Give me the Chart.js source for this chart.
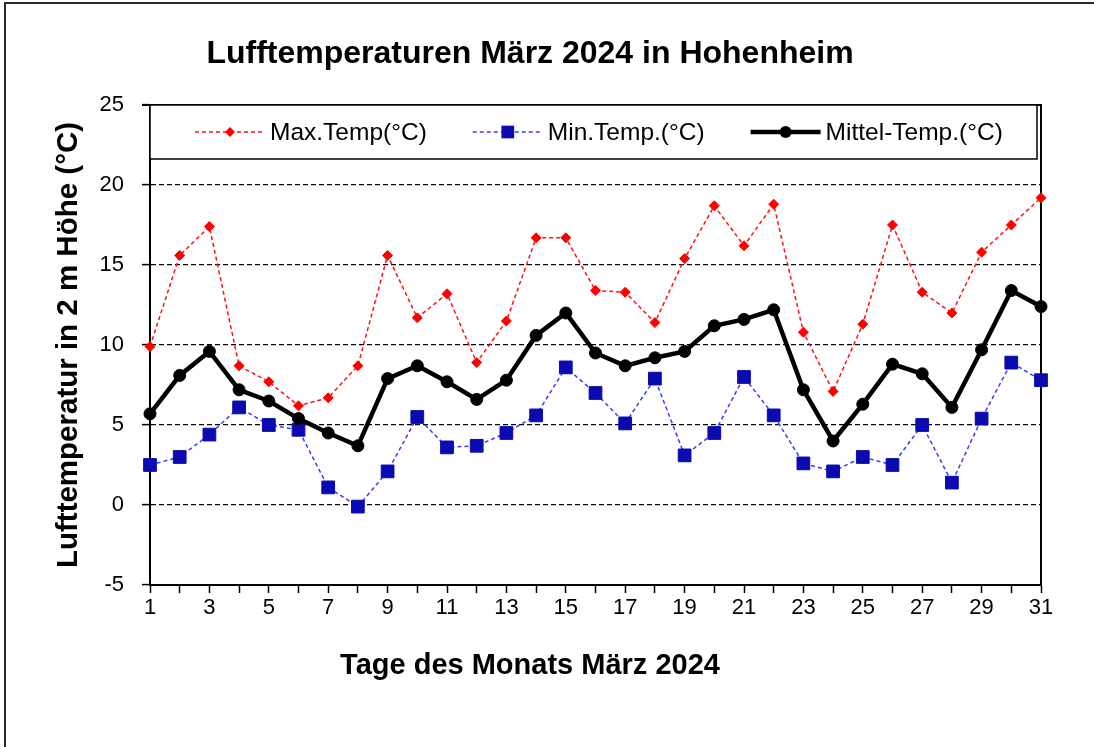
<!DOCTYPE html>
<html>
<head>
<meta charset="utf-8">
<title>Lufttemperaturen März 2024 in Hohenheim</title>
<script src="https://cdn.jsdelivr.net/npm/chart.js@4.4.1/dist/chart.umd.min.js"></script>
<style>
  html, body { margin: 0; padding: 0; background: #fff; }
  #wrap { position: relative; width: 1094px; height: 747px; }
</style>
</head>
<body>
<div id="wrap"><canvas id="chart" width="1094" height="747"></canvas></div>
<script>
// Tage des Monats
const days = ['1', '2', '3', '4', '5', '6', '7', '8', '9', '10', '11', '12', '13', '14', '15', '16',
  '17', '18', '19', '20', '21', '22', '23', '24', '25', '26', '27', '28', '29', '30', '31'];

// Tageswerte (°C)
const maxTemp = [9.9, 15.6, 17.4, 8.7, 7.7, 6.2, 6.7, 8.7, 15.6, 11.7, 13.2, 8.9, 11.5, 16.7, 16.7, 13.4,
  13.3, 11.4, 15.4, 18.7, 16.2, 18.8, 10.8, 7.1, 11.3, 17.5, 13.3, 12.0, 15.8, 17.5, 19.2];
const minTemp = [2.5, 3.0, 4.4, 6.1, 5.0, 4.7, 1.1, -0.1, 2.1, 5.5, 3.6, 3.7, 4.5, 5.6, 8.6, 7.0,
  5.1, 7.9, 3.1, 4.5, 8.0, 5.6, 2.6, 2.1, 3.0, 2.5, 5.0, 1.4, 5.4, 8.9, 7.8];
const meanTemp = [5.7, 8.1, 9.6, 7.2, 6.5, 5.4, 4.5, 3.7, 7.9, 8.7, 7.7, 6.6, 7.8, 10.6, 12.0, 9.5,
  8.7, 9.2, 9.6, 11.2, 11.6, 12.2, 7.2, 4.0, 6.3, 8.8, 8.2, 6.1, 9.7, 13.4, 12.4];

// y-Achse
const yTickValues = [-5, 0, 5, 10, 15, 20, 25];

const FONT = '"Liberation Sans", Arial, Helvetica, sans-serif';

// Rahmen um Grafik und Zeichenfläche
const framePlugin = {
  id: 'frame',
  beforeDraw(chart) {
    const ctx = chart.ctx;
    ctx.save();
    ctx.fillStyle = '#fff';
    ctx.fillRect(0, 0, chart.width, chart.height);
    ctx.restore();
  },
  beforeDatasetsDraw(chart) {
    const { ctx, chartArea: a } = chart;
    ctx.save();
    ctx.strokeStyle = '#2a2a2a';
    ctx.lineWidth = 2;
    ctx.beginPath();
    ctx.moveTo(5, chart.height + 5);
    ctx.lineTo(5, 3);
    ctx.lineTo(chart.width + 5, 3);
    ctx.stroke();

    ctx.strokeStyle = '#000';
    ctx.lineWidth = 2;
    ctx.beginPath();
    ctx.moveTo(a.left - 8, a.top);
    ctx.lineTo(a.right, a.top);
    ctx.lineTo(a.right, a.bottom);
    ctx.stroke();
    ctx.restore();
  }
};

// Legende im Kasten oben in der Zeichenfläche
const legendBoxPlugin = {
  id: 'legendBox',
  afterDraw(chart) {
    const { ctx, chartArea: a } = chart;
    const boxTop = a.top, boxBottom = a.top + 54;
    const boxLeft = a.left, boxRight = a.right - 4;
    ctx.save();
    ctx.fillStyle = '#fff';
    ctx.fillRect(boxLeft, boxTop, boxRight - boxLeft, boxBottom - boxTop);
    ctx.strokeStyle = '#000';
    ctx.lineWidth = 1.5;
    ctx.strokeRect(boxLeft, boxTop, boxRight - boxLeft, boxBottom - boxTop);

    const cy = (boxTop + boxBottom) / 2;
    let x = boxLeft + 45;
    ctx.font = '24.5px ' + FONT;
    ctx.textBaseline = 'middle';
    ctx.textAlign = 'left';
    chart.data.datasets.forEach(ds => {
      ctx.save();
      ctx.strokeStyle = ds.borderColor;
      ctx.lineWidth = ds.borderWidth;
      ctx.setLineDash(ds.borderDash || []);
      ctx.beginPath();
      ctx.moveTo(x, cy);
      ctx.lineTo(x + 70, cy);
      ctx.stroke();
      ctx.restore();

      const mx = x + 35;
      const r = ds.pointRadius;
      ctx.fillStyle = ds.pointBackgroundColor;
      ctx.beginPath();
      if (ds.pointStyle === 'rectRot') {
        ctx.moveTo(mx, cy - r); ctx.lineTo(mx + r, cy); ctx.lineTo(mx, cy + r); ctx.lineTo(mx - r, cy);
        ctx.closePath();
      } else if (ds.pointStyle === 'rect') {
        const s = r * Math.SQRT1_2;
        ctx.rect(mx - s, cy - s, 2 * s, 2 * s);
      } else {
        ctx.arc(mx, cy, r, 0, Math.PI * 2);
      }
      ctx.fill();

      ctx.fillStyle = '#000';
      ctx.fillText(ds.label, x + 75, cy + 1);
      x += 75 + ctx.measureText(ds.label).width + 46;
    });
    ctx.restore();
  }
};

new Chart(document.getElementById('chart'), {
  type: 'line',
  data: {
    labels: days,
    datasets: [
      {
        label: 'Max.Temp(°C)',
        data: maxTemp,
        borderColor: '#ff1010',
        borderWidth: 1.5,
        borderDash: [4, 3],
        pointStyle: 'rectRot',
        pointRadius: 5,
        pointBackgroundColor: '#ff0000',
        pointBorderColor: '#ff0000',
        pointBorderWidth: 1,
        tension: 0,
        order: 3,
        clip: 12
      },
      {
        label: 'Min.Temp.(°C)',
        data: minTemp,
        borderColor: '#3a3aff',
        borderWidth: 1.5,
        borderDash: [4, 3],
        pointStyle: 'rect',
        pointRadius: 9,
        pointBackgroundColor: '#0a0ab0',
        pointBorderColor: '#0a0ab0',
        pointBorderWidth: 1,
        tension: 0,
        order: 2,
        clip: 12
      },
      {
        label: 'Mittel-Temp.(°C)',
        data: meanTemp,
        borderColor: '#000',
        borderWidth: 4.5,
        pointStyle: 'circle',
        pointRadius: 6,
        pointBackgroundColor: '#000',
        pointBorderColor: '#000',
        pointBorderWidth: 1,
        tension: 0,
        order: 1,
        clip: 12
      }
    ]
  },
  options: {
    responsive: false,
    animation: false,
    devicePixelRatio: 1,
    layout: { padding: { left: 19, right: 53, top: 0, bottom: 0 } },
    plugins: {
      legend: { display: false },
      tooltip: { enabled: false },
      title: {
        display: true,
        text: 'Lufftemperaturen März 2024 in Hohenheim',
        color: '#000',
        font: { family: FONT, size: 32, weight: 'bold' },
        padding: { top: 35, bottom: 31.6 }
      },
      // Achsentitel der x-Achse, wie im Original über die ganze Breite zentriert
      subtitle: {
        display: true,
        position: 'bottom',
        text: 'Tage des Monats März 2024',
        color: '#000',
        font: { family: FONT, size: 29, weight: 'bold' },
        padding: { top: 0, bottom: 63.6 }
      }
    },
    scales: {
      x: {
        type: 'category',
        offset: false,
        afterFit(scale) { scale.height = 63.6; },
        grid: {
          drawOnChartArea: false,
          drawTicks: true,
          tickLength: 8,
          tickColor: '#000',
          tickWidth: 1.5
        },
        border: { display: true, color: '#000', width: 2 },
        ticks: {
          autoSkip: false,
          maxRotation: 0,
          color: '#000',
          padding: 2,
          font: { family: FONT, size: 22 },
          callback: (val, i) => (i % 2 === 0 ? days[i] : '')
        }
      },
      y: {
        min: yTickValues[0],
        max: yTickValues[yTickValues.length - 1],
        afterFit(scale) { scale.width = 131; },
        afterBuildTicks(scale) { scale.ticks = yTickValues.map(v => ({ value: v })); },
        grid: {
          color: '#000',
          lineWidth: 1.2,
          drawTicks: true,
          tickLength: 8,
          tickColor: '#000',
          tickWidth: 1.5,
          tickBorderDash: []
        },
        border: { display: true, color: '#000', width: 2, dash: [5, 3] },
        ticks: {
          color: '#000',
          padding: 18,
          font: { family: FONT, size: 22 }
        },
        title: {
          display: true,
          text: 'Lufttemperatur in 2 m Höhe (°C)',
          color: '#000',
          font: { family: FONT, size: 29.5, weight: 'bold' },
          padding: { top: 32, bottom: 0 }
        }
      }
    }
  },
  plugins: [framePlugin, legendBoxPlugin]
});
</script>
</body>
</html>
